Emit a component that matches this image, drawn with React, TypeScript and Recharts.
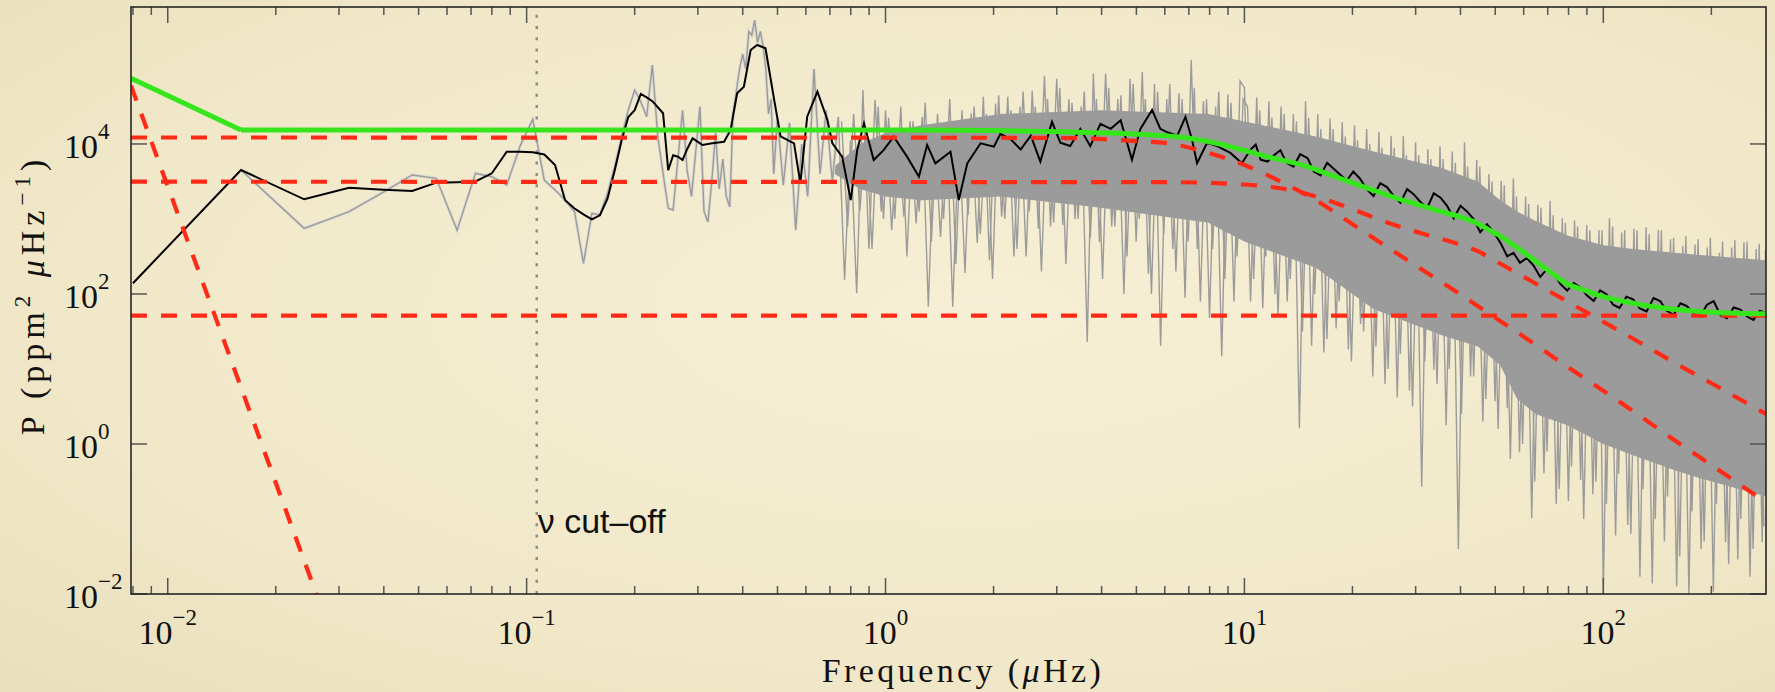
import React from "react";
import { ComposedChart, Line, Area, XAxis, YAxis, ReferenceLine } from "recharts";

// frequency in µHz, power density in ppm² / µHz
type Pt = [number, number];

// raw periodogram (grey), one value per bin at low frequency, thinned above 0.5 µHz
const rawSpectrum: Pt[] = [
  [0.016, 4500], [0.024, 750], [0.032, 1250], [0.04, 2300], [0.048, 3860], [0.056, 3480],
  [0.064, 710], [0.072, 4060], [0.08, 3660], [0.088, 2840], [0.096, 9500], [0.104, 21300],
  [0.112, 3300], [0.12, 2440], [0.128, 1790], [0.136, 1250], [0.144, 256], [0.152, 1190],
  [0.16, 1130], [0.168, 2200], [0.176, 4990], [0.184, 12500], [0.192, 28400], [0.2, 52500],
  [0.208, 36600], [0.216, 23100], [0.224, 113000], [0.232, 12500], [0.24, 4060], [0.248, 1390],
  [0.256, 1320], [0.264, 6300], [0.272, 28200], [0.28, 4470], [0.288, 2000], [0.296, 7940],
  [0.304, 31600], [0.312, 1260], [0.32, 912], [0.328, 3160], [0.336, 14100], [0.344, 2510],
  [0.352, 6310], [0.36, 2000], [0.368, 1450], [0.376, 25100], [0.384, 50100], [0.392, 100000],
  [0.4, 158000], [0.408, 100000], [0.416, 316000], [0.424, 282000], [0.432, 447000], [0.44, 224000],
  [0.448, 316000], [0.456, 200000], [0.464, 100000], [0.472, 25100], [0.48, 39800], [0.488, 3980],
  [0.5, 22400], [0.519, 2820], [0.54, 19100], [0.562, 708], [0.584, 10000], [0.607, 2000],
  [0.632, 100000], [0.657, 3980], [0.683, 28200], [0.711, 3160], [0.739, 22900], [0.769, 155],
  [0.799, 11200], [0.831, 102], [0.865, 52500], [0.899, 398], [0.935, 38900], [0.973, 1260],
  [1.0, 28200], [1.04, 708], [1.082, 15500], [1.125, 1070], [1.17, 20000], [1.217, 871],
  [1.265, 22900], [1.316, 67.6], [1.369, 15800], [1.423, 575], [1.48, 19100], [1.539, 67.6],
  [1.601, 15500], [1.665, 191], [1.732, 25700], [1.801, 479], [1.873, 42700], [1.948, 282],
  [2.026, 34700], [2.107, 1070], [2.191, 42700], [2.279, 316], [2.37, 31600], [2.465, 316],
  [2.563, 51300], [2.666, 741], [2.772, 81300], [2.883, 794], [2.999, 74100], [3.119, 832],
  [3.243, 39800], [3.373, 1000], [3.508, 31600], [3.648, 22.9], [3.794, 87100], [3.946, 490],
  [4.104, 87100], [4.268, 794], [4.439, 39800], [4.616, 100], [4.801, 74100], [4.993, 501],
  [5.193, 91200], [5.4, 186], [5.617, 63100], [5.841, 20.4], [6.075, 39800], [6.318, 398],
  [6.571, 47900], [6.833, 89.1], [7.107, 132000], [7.391, 398], [7.687, 37200], [7.994, 47.9],
  [8.314, 31600], [8.646, 14.8], [8.992, 45700], [9.352, 79.4], [9.726, 69200],
  [10.0, 56200], [10.4, 79.4], [10.82, 41700], [11.25, 64.6], [11.7, 37200], [12.17, 100],
  [12.65, 31600], [13.16, 79.4], [13.69, 25100], [14.23, 1.62], [14.8, 37200], [15.39, 20.4],
  [16.01, 25100], [16.65, 16.6], [17.32, 21900], [18.01, 34.7], [18.73, 19500], [19.48, 18.2],
  [20.26, 17800], [21.07, 39.8], [21.91, 15800], [22.79, 7.94], [23.7, 14500], [24.65, 6.31],
  [25.63, 12900], [26.66, 4.17], [27.72, 12900], [28.83, 5.13], [29.99, 10500], [31.19, 0.269],
  [32.43, 8510], [33.73, 9.77], [35.08, 9330], [36.48, 1.78], [37.94, 7940], [39.46, 0.0398],
  [41.04, 10500], [42.68, 7.94], [44.39, 6170], [46.16, 2.0], [48.01, 3980], [49.93, 3.72],
  [51.93, 3240], [54.0, 3.02], [56.17, 3470], [58.41, 0.776], [60.75, 2000], [63.18, 0.102],
  [65.71, 1550], [68.33, 0.407], [71.07, 1740], [73.91, 0.158], [76.87, 1020], [79.94, 0.174],
  [83.14, 955], [86.46, 0.331], [89.92, 832], [93.52, 0.214], [97.26, 708],
  [100, 0.01], [104, 1020], [108.2, 0.0603], [112.5, 661], [117, 0.0832], [121.7, 741],
  [126.5, 0.017], [131.6, 776], [136.9, 0.0138], [142.3, 708], [148, 0.0501], [153.9, 537],
  [160.1, 0.0126], [166.5, 437], [173.2, 0.01], [180.1, 457], [187.3, 0.0398], [194.8, 417],
  [202.6, 0.0107], [210.7, 355], [219.1, 0.049], [227.9, 417], [237, 0.0288], [246.5, 490],
  [256.3, 0.017], [266.6, 398], [277.2, 0.049], [283, 389],
];

// the bins in between, above 0.75 µHz, where the trace turns into a solid fringe
const rawSpectrumMid: Pt[] = [
  [0.754, 20000], [0.784, 794], [0.815, 25100], [0.848, 1260], [0.882, 15800], [0.917, 398],
  [0.954, 31600], [0.987, 1000],
  [1.02, 22400], [1.061, 1000], [1.103, 31600], [1.147, 316], [1.193, 20000], [1.241, 1260],
  [1.29, 35500], [1.342, 501], [1.396, 25100], [1.451, 1000], [1.51, 39800], [1.57, 251],
  [1.633, 28200], [1.698, 1120], [1.766, 31600], [1.837, 631], [1.91, 25100], [1.987, 158],
  [2.066, 44700], [2.149, 1000], [2.235, 28200], [2.325, 398], [2.417, 50100], [2.514, 1260],
  [2.614, 31600], [2.719, 200], [2.827, 39800], [2.941, 891], [3.059, 56200], [3.181, 251],
  [3.308, 35500], [3.44, 1000], [3.578, 50100], [3.721, 562], [3.87, 39800], [4.025, 158],
  [4.186, 56200], [4.353, 794], [4.528, 44700], [4.708, 316], [4.897, 63100], [5.093, 1000],
  [5.296, 39800], [5.508, 100], [5.729, 50100], [5.958, 631], [6.196, 63100], [6.444, 200],
  [6.702, 39800], [6.97, 501], [7.249, 56200], [7.539, 79.4], [7.84, 39800], [8.154, 398],
  [8.48, 50100], [8.819, 158], [9.172, 35500], [9.539, 316], [9.92, 39800],
  [10.2, 31600], [10.61, 158], [11.03, 28200], [11.47, 316], [11.93, 22400], [12.41, 50.1],
  [12.9, 25100], [13.42, 158], [13.96, 20000], [14.51, 31.6], [15.1, 22400], [15.7, 100],
  [16.33, 15800], [16.98, 25.1], [17.66, 15800], [18.37, 79.4], [19.1, 12600], [19.87, 12.6],
  [20.66, 11200], [21.49, 31.6], [22.35, 10000], [23.25, 20], [24.17, 8910], [25.14, 10],
  [26.14, 8910], [27.19, 15.8], [28.27, 7080], [29.41, 3.16], [30.59, 7080], [31.81, 12.6],
  [33.08, 6310], [34.4, 6.31], [35.78, 6310], [37.21, 10], [38.7, 5620], [40.25, 2.51],
  [41.86, 5010], [43.53, 7.94], [45.28, 5010], [47.08, 3.98], [48.97, 3160], [50.93, 1.58],
  [52.96, 2820], [55.08, 0.631], [57.29, 2000], [59.58, 1.0], [61.96, 1580], [64.44, 0.316],
  [67.02, 1410], [69.7, 0.794], [72.49, 1120], [75.39, 0.251], [78.4, 891], [81.54, 0.501],
  [84.8, 794], [88.19, 0.1], [91.72, 708], [95.39, 0.316], [99.2, 708],
  [102, 0.158], [106.1, 794], [110.3, 0.398], [114.7, 708], [119.3, 0.0631], [124.1, 708],
  [129, 0.251], [134.2, 631], [139.6, 0.1], [145.1, 708], [151, 0.2], [157, 562],
  [163.3, 0.0316], [169.8, 589], [176.6, 0.126], [183.7, 537], [191, 0.0501], [198.7, 562],
  [206.6, 0.158], [214.9, 501], [223.5, 0.0251], [232.5, 525], [241.7, 0.1], [251.4, 501],
  [261.4, 0.0398], [271.9, 468], [280, 0.0794],
];

// dense part of the raw periodogram where the bins merge: [f, low, high]
const rawBand: [number, number, number][] = [
  [0.72, 4000, 5000], [0.85, 2500, 10000], [1.0, 2000, 14000], [1.26, 1780, 17800],
  [2.09, 2000, 25100], [3.98, 1410, 28200], [7.94, 891, 25100], [10, 501, 20000],
  [15.8, 224, 12600], [22.9, 63.1, 7940], [35.5, 28.2, 4790], [44.7, 20, 3160],
  [51.6, 11.2, 1780], [57.5, 4.0, 1260], [65, 2.5, 933], [79.4, 1.78, 603],
  [100, 1.0, 447], [121, 0.708, 398], [158, 0.447, 355], [186, 0.35, 331], [284, 0.2, 282],
];

// smoothed periodogram (black)
const smoothSpectrum: Pt[] = [
  [0.008, 139], [0.016, 4500], [0.024, 1830], [0.032, 2610], [0.04, 2450], [0.048, 2360],
  [0.056, 3050], [0.064, 3090], [0.072, 3160], [0.08, 4060], [0.088, 7890], [0.096, 7890],
  [0.104, 7760], [0.112, 7240], [0.12, 5250], [0.128, 1780], [0.136, 1380], [0.144, 1150],
  [0.152, 990], [0.16, 1120], [0.168, 1860], [0.176, 4470], [0.184, 11200], [0.192, 22900],
  [0.2, 28200], [0.208, 46500], [0.216, 41700], [0.224, 37200], [0.232, 30900], [0.24, 25700],
  [0.248, 4470], [0.256, 7080], [0.264, 6760], [0.272, 6120], [0.28, 8510], [0.29, 11900],
  [0.309, 9700], [0.329, 10200], [0.355, 10700], [0.37, 15400], [0.386, 47400], [0.403, 58100],
  [0.421, 179000], [0.439, 209000], [0.463, 189000], [0.489, 39800], [0.51, 12600], [0.556, 10200],
  [0.579, 2990], [0.605, 23100], [0.646, 49800], [0.689, 20900], [0.711, 10200], [0.757, 6780],
  [0.8, 1790], [0.834, 8320], [0.871, 18900], [0.927, 6120], [0.989, 8320], [1.054, 12500],
  [1.148, 6780], [1.239, 3660], [1.306, 9700], [1.377, 5520], [1.517, 7890], [1.6, 1790],
  [1.69, 5520], [1.84, 10200], [2.004, 9200], [2.09, 13600], [2.23, 11600], [2.38, 8430],
  [2.54, 12900], [2.7, 5820], [2.91, 19700], [3.07, 10400], [3.27, 9380], [3.49, 15900],
  [3.72, 9380], [3.97, 18600], [4.24, 15900], [4.52, 20700], [4.86, 6170], [5.13, 15900],
  [5.53, 28400], [5.83, 15900], [6.1, 14300], [6.5, 12900], [6.85, 23000], [7.14, 11600],
  [7.38, 5530], [7.87, 10400], [8.39, 9380], [9.14, 7590], [9.84, 5530], [10.4, 8430],
  [10.75, 9800], [11.1, 6170], [11.6, 5830], [12.1, 7100], [12.6, 8260], [13.1, 5600],
  [13.7, 4980], [14.3, 7300], [15.0, 6470], [15.6, 4300], [16.3, 3820], [17.0, 5600],
  [17.7, 4720], [18.5, 3900], [19.3, 3260], [20.1, 4300], [21.0, 3440], [21.9, 2500],
  [22.9, 2020], [23.9, 3000], [25.0, 2640], [26.1, 2000], [27.2, 1640], [28.4, 2500],
  [29.6, 2140], [30.9, 1700], [32.3, 1400], [33.7, 2200], [35.2, 1920], [36.7, 1500],
  [38.3, 1020], [40.0, 1500], [41.7, 1260], [43.5, 1000], [45.4, 667], [47.4, 850],
  [49.5, 667], [51.7, 480], [54.0, 318], [56.2, 354], [58.6, 260], [61.2, 302],
  [63.9, 240], [66.7, 169], [69.7, 215], [72.8, 187], [76.0, 135], [79.3, 111],
  [82.7, 140], [86.3, 123], [90.1, 95], [94.0, 80.5], [98, 112], [102, 99.5],
  [106.5, 72], [111, 65.2], [116, 92], [121, 84.9], [126.5, 64], [132, 58.6],
  [138, 88], [144, 80.5], [150, 60], [157, 52.7], [164, 75], [171, 68.7],
  [178.5, 55], [186, 50], [194.5, 72], [203, 80.5], [212, 52], [221, 47.4],
  [231, 66], [241, 61.8], [251.5, 50], [262, 45.1], [273, 60], [284, 55.6],
];

// total background model (green)
const fitTotal: Pt[] = [
  [0.0079, 75200], [0.016, 15400], [1.0, 15400], [2.0, 15100], [3.16, 14500], [4.9, 13600],
  [6.78, 12200], [8.0, 10700], [9.55, 8710], [11.6, 6760], [15.0, 4980], [18.0, 3630],
  [21.4, 2700], [25.1, 2070], [30.2, 1570], [35.2, 1260], [39.8, 1070], [43.6, 920],
  [47.9, 722], [50.9, 617], [56.2, 448], [64.0, 286], [71.4, 195], [79.3, 137],
  [87.1, 116], [98.2, 94.4], [121, 75.2], [135, 68.7], [186, 58.6], [284, 54.3],
];

// model components (red dashed)
const trendComponent: Pt[] = [[0.0079, 60000], [0.02594, 0.01]];
const granulationSlow: Pt[] = [
  [0.0079, 12200], [2.0, 12100], [3.16, 12000], [4.9, 11000], [6.3, 10000], [7.94, 7590],
  [10, 5250], [12.6, 3160], [15.8, 1780], [20, 851], [25.1, 417], [31.6, 204], [39.8, 100],
  [50.1, 47.9], [63.1, 22.9], [79.4, 10.7], [100, 5.13], [126, 2.4], [158, 1.12],
  [200, 0.525], [284, 0.166],
];
const granulationFast: Pt[] = [
  [0.0079, 3140], [6.3, 3090], [10, 2880], [12.6, 2570], [15.8, 2000], [20, 1350],
  [25.1, 891], [31.6, 631], [39.8, 457], [44.7, 372], [50.1, 275], [63.1, 148],
  [79.4, 79.4], [100, 42.5], [126, 22.7], [158, 12.1], [200, 6.46], [284, 2.51],
];
const whiteNoise: Pt[] = [[0.0079, 51.4], [284, 51.4]];

const cutoffFreq = 0.1067;

const xMajor = [0.01, 0.1, 1, 10, 100];
const xMinor = [
  0.008, 0.009, 0.02, 0.03, 0.04, 0.05, 0.06, 0.07, 0.08, 0.09,
  0.2, 0.3, 0.4, 0.5, 0.6, 0.7, 0.8, 0.9, 2, 3, 4, 5, 6, 7, 8, 9,
  20, 30, 40, 50, 60, 70, 80, 90, 200,
];
const yMajor = [0.01, 1, 100, 10000];

const W = 1775;
const H = 692;
const PLOT = { left: 131, right: 1766, top: 7, bottom: 594 };
const SERIF = "'Liberation Serif', 'Times New Roman', serif";
const SANS = "'Liberation Sans', Arial, sans-serif";
const TICK = "#555";
const RED = "#ff2b16";
const GREY = "#9b9b9b";

const pts = (arr: Pt[]) => arr.map(([f, p]) => ({ f, p }));

function expText(v: number) {
  const e = Math.round(Math.log10(v));
  return e < 0 ? "\u2212" + Math.abs(e) : String(e);
}

function FreqTick(props: any) {
  const { x, payload } = props;
  const major = xMajor.includes(payload.value);
  const len = major ? 16 : 8;
  return (
    <g>
      <line x1={x} x2={x} y1={PLOT.bottom} y2={PLOT.bottom - len} stroke={TICK} strokeWidth={1.5} />
      <line x1={x} x2={x} y1={PLOT.top} y2={PLOT.top + len} stroke={TICK} strokeWidth={1.5} />
      {major && (
        <text x={x} y={644} textAnchor="middle" fontFamily={SERIF} fontSize={34} fill="#111">
          10
          <tspan dy={-19} fontSize={23}>{expText(payload.value)}</tspan>
        </text>
      )}
    </g>
  );
}

function PowerTick(props: any) {
  const { y, payload } = props;
  return (
    <g>
      <line x1={PLOT.left} x2={PLOT.left + 16} y1={y} y2={y} stroke={TICK} strokeWidth={1.5} />
      <line x1={PLOT.right - 16} x2={PLOT.right} y1={y} y2={y} stroke={TICK} strokeWidth={1.5} />
      <text x={64} y={y + 14} fontFamily={SERIF} fontSize={34} fill="#111">
        10
        <tspan dy={-19} fontSize={23}>{expText(payload.value)}</tspan>
      </text>
    </g>
  );
}

function CutoffLabel(props: any) {
  const x = props.viewBox ? props.viewBox.x : 0;
  return (
    <text x={x + 1} y={533} fontFamily={SANS} fontSize={34} fill="#111">
      {"\u03bd cut\u2013off"}
    </text>
  );
}

const dashed = {
  stroke: RED,
  strokeWidth: 4.2,
  strokeDasharray: "16 14",
  dot: false,
  activeDot: false,
  isAnimationActive: false,
} as const;

const plain = { dot: false, activeDot: false, isAnimationActive: false } as const;

export default function App() {
  const raw = pts(rawSpectrum);
  // light edge only where the bins are still resolved as separate strokes
  const rawSparse = raw.filter((d) => d.f < 0.75);
  const band = rawBand.map(([f, lo, hi]) => ({ f, range: [lo, hi] }));
  const fit = pts(fitTotal);

  return (
    <div
      style={{
        position: "absolute",
        left: 0,
        top: 0,
        width: W,
        height: H,
        overflow: "hidden",
        background: "radial-gradient(ellipse at 55% 45%, #f6efd5 0%, #f1e8c9 65%, #e9dfbd 100%)",
      }}
    >
      <ComposedChart width={W} height={H} margin={{ top: 7, right: 9, bottom: 0, left: 0 }}>
        <XAxis
          dataKey="f"
          type="number"
          scale="log"
          domain={[0.0079, 284]}
          allowDataOverflow
          ticks={[...xMajor, ...xMinor]}
          interval={0}
          tick={(p: any) => <FreqTick {...p} />}
          tickLine={false}
          axisLine={false}
          height={98}
        />
        <YAxis
          type="number"
          scale="log"
          domain={[0.01, 670000]}
          allowDataOverflow
          ticks={yMajor}
          interval={0}
          tick={(p: any) => <PowerTick {...p} />}
          tickLine={false}
          axisLine={false}
          width={131}
        />

        <Area data={band} dataKey="range" type="linear" stroke="none" fill={GREY} fillOpacity={1} {...plain} />
        <Line data={rawSparse} dataKey="p" type="linear" stroke="#dddbd2" strokeWidth={3.2} {...plain} />
        <Line data={raw} dataKey="p" type="linear" stroke={GREY} strokeWidth={1.4} {...plain} />
        <Line data={pts(rawSpectrumMid)} dataKey="p" type="linear" stroke={GREY} strokeWidth={1.4} {...plain} />

        <ReferenceLine x={cutoffFreq} stroke="#8d8d8d" strokeWidth={2.5} strokeDasharray="3 8.3"
          label={(p: any) => <CutoffLabel {...p} />} />

        <Line data={pts(smoothSpectrum)} dataKey="p" type="linear" stroke="#000" strokeWidth={2} {...plain} />

        <Line data={pts(whiteNoise)} dataKey="p" type="linear" {...dashed} />
        <Line data={pts(trendComponent)} dataKey="p" type="linear" {...dashed} />
        <Line data={pts(granulationSlow)} dataKey="p" type="monotone" {...dashed} />
        <Line data={pts(granulationFast)} dataKey="p" type="monotone" {...dashed} />

        {/* model is sampled on the bin grid: straight between the first two bins */}
        <Line data={fit.slice(0, 2)} dataKey="p" type="linear" stroke="#36e61c" strokeWidth={5} {...plain} />
        <Line data={fit.slice(1)} dataKey="p" type="monotone" stroke="#36e61c" strokeWidth={5} {...plain} />
      </ComposedChart>

      <svg width={W} height={H} style={{ position: "absolute", left: 0, top: 0, pointerEvents: "none" }}>
        <rect x={PLOT.left} y={PLOT.top} width={PLOT.right - PLOT.left} height={PLOT.bottom - PLOT.top}
          fill="none" stroke="#262626" strokeWidth={1.6} />
        <text x={963} y={682} textAnchor="middle" fontFamily={SERIF} fontSize={34} letterSpacing={3.4} fill="#111">
          Frequency (<tspan fontStyle="italic">{"\u03bc"}</tspan>Hz)
        </text>
        <text transform="translate(44 295) rotate(-90)" textAnchor="middle" fontFamily={SERIF}
          fontSize={34} letterSpacing={5} fill="#111">
          P (ppm<tspan dy={-14} fontSize={23}>2</tspan>
          <tspan dy={14}> </tspan>
          <tspan fontStyle="italic">{"\u03bc"}</tspan>Hz<tspan dy={-14} fontSize={23}>{"\u22121"}</tspan>
          <tspan dy={14}>)</tspan>
        </text>
      </svg>
    </div>
  );
}
